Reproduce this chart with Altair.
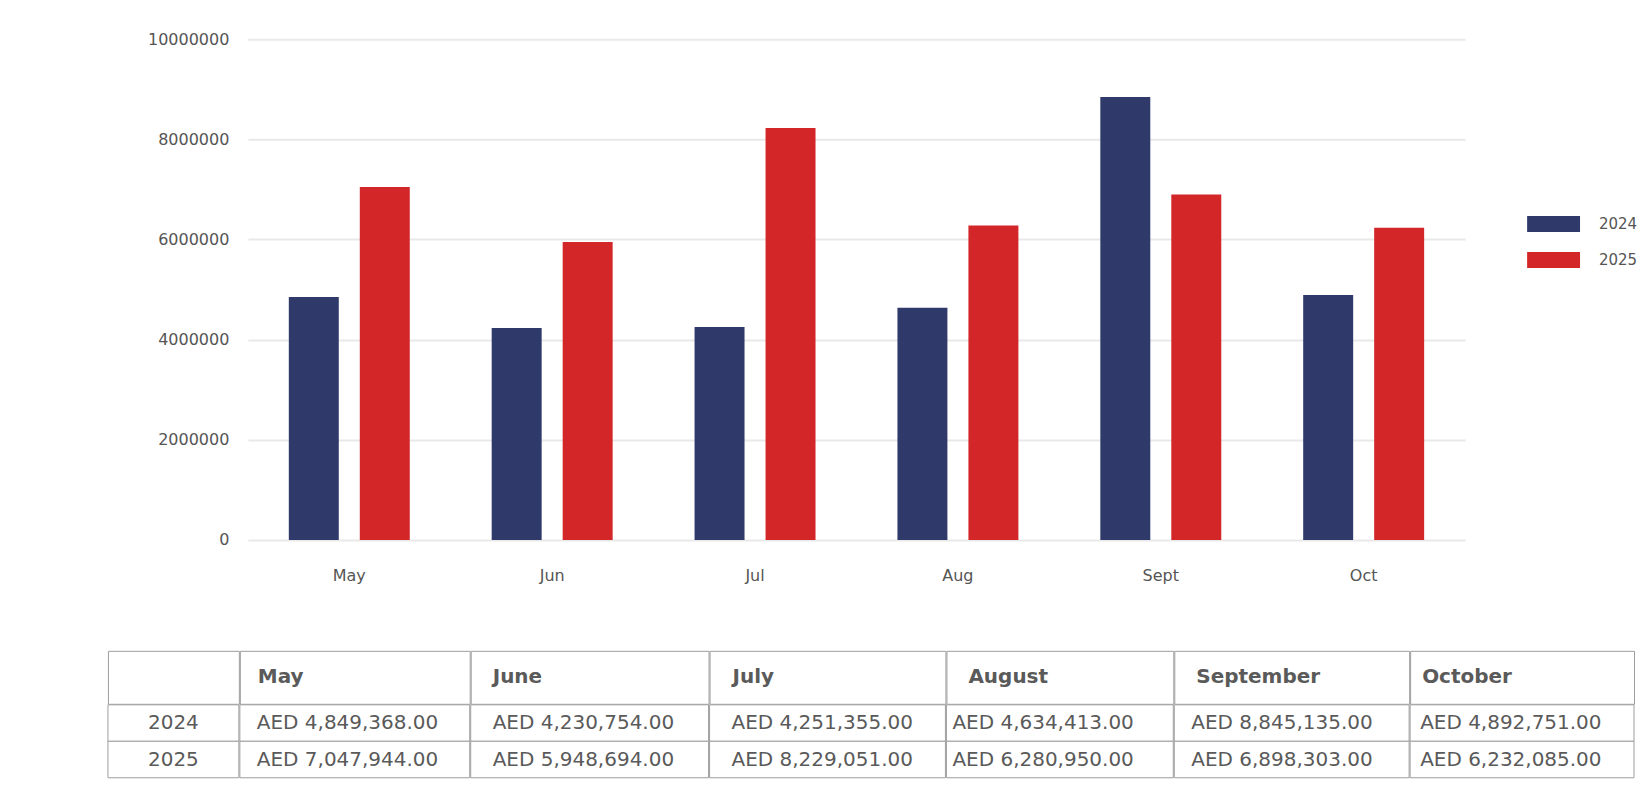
import altair as alt
import pandas as pd

# ---------------- data ----------------
months_short = ["May", "Jun", "Jul", "Aug", "Sept", "Oct"]
months_full = ["May", "June", "July", "August", "September", "October"]
years = ["2024", "2025"]
sales_2024 = [4849368.00, 4230754.00, 4251355.00, 4634413.00, 8845135.00, 4892751.00]
sales_2025 = [7047944.00, 5948694.00, 8229051.00, 6280950.00, 6898303.00, 6232085.00]
y_ticks = [0, 2000000, 4000000, 6000000, 8000000, 10000000]

# ---------------- styles / layout ----------------
COLORS = ["#2F3A6B", "#D32628"]
FONT = "DejaVu Sans"
AXIS_TXT = "#555555"
TXT = "#5a5a5a"
LINE = "#9e9e9e"
col_widths = [131, 230, 238, 236, 227, 235, 224]
head_pad = [0, 18, 22, 23, 22, 22, 12]
body_pad = [0, 17, 22, 22, 6, 17, 10]
HEAD_H = 53
BODY_H = 73
CELL_GAP = -3   # makes neighbouring cell borders coincide


def fmt_aed(v):
    return "AED {:,.2f}".format(v)


rows = []
for i, m in enumerate(months_short):
    rows.append({"month": m, "year": years[0], "value": sales_2024[i]})
    rows.append({"month": m, "year": years[1], "value": sales_2025[i]})
df = pd.DataFrame(rows)

bars = alt.Chart(df).mark_bar().encode(
    x=alt.X("month:N", sort=months_short,
            scale=alt.Scale(paddingInner=0, paddingOuter=0),
            axis=alt.Axis(title=None, labelAngle=0, domain=False, ticks=False, grid=False,
                          labelPadding=28, labelFontSize=16, labelColor=AXIS_TXT)),
    xOffset=alt.XOffset("year:N", sort=years,
                        scale=alt.Scale(paddingInner=0.296, paddingOuter=0.577)),
    y=alt.Y("value:Q", scale=alt.Scale(domain=[0, 10000000]),
            axis=alt.Axis(title=None, values=y_ticks, format="d", domain=False, ticks=False,
                          labelPadding=19, minExtent=139, gridColor="#e9e9e9", gridWidth=2,
                          labelFontSize=16, labelColor=AXIS_TXT)),
    color=alt.Color("year:N", sort=years,
                    scale=alt.Scale(domain=years, range=COLORS),
                    legend=alt.Legend(title=None, orient="none", legendX=1420, legendY=177,
                                      symbolType="M-1,-0.302H1V0.302H-1Z", symbolSize=2809,
                                      symbolStrokeWidth=0, symbolOpacity=1,
                                      labelFontSize=15, labelOffset=19, rowPadding=20,
                                      clipHeight=16, padding=0, labelColor=AXIS_TXT)),
).properties(width=1218, height=501)

# empty spacer so that the table can start left of the bar plot
spacer = alt.Chart(pd.DataFrame({"t": [""]})).mark_text().encode(
    text="t:N").properties(width=1, height=1)

top = alt.hconcat(spacer, bars, spacing=0)

# ---------------- table ----------------
header_labels = [""] + months_full
head_charts = []
for j, lab in enumerate(header_labels):
    c = alt.Chart(pd.DataFrame({"label": [lab]})).mark_text(
        align="left" if j > 0 else "center", baseline="middle", fontSize=20,
        fontWeight="bold", color=TXT
    )
    if j > 0:
        c = c.encode(x=alt.value(head_pad[j]), text="label:N")
    else:
        c = c.encode(text="label:N")
    c = c.properties(width=col_widths[j], height=HEAD_H,
                     view=alt.ViewBackground(stroke=LINE, strokeWidth=1))
    head_charts.append(c)

body_charts = []
for j in range(len(col_widths)):
    if j == 0:
        d = pd.DataFrame({"year": years, "label": years})
    else:
        d = pd.DataFrame({"year": years,
                          "label": [fmt_aed(sales_2024[j - 1]), fmt_aed(sales_2025[j - 1])]})
    ysc = alt.Y("year:N", sort=years, axis=None, scale=alt.Scale(paddingInner=0, paddingOuter=0))
    rect = alt.Chart(d).mark_rect(fill="white", stroke=LINE, strokeWidth=1).encode(y=ysc)
    if j == 0:
        txt = alt.Chart(d).mark_text(align="center", baseline="middle", fontSize=20,
                                     color=TXT).encode(y=ysc, text="label:N")
    else:
        txt = alt.Chart(d).mark_text(align="left", baseline="middle", fontSize=20,
                                     color=TXT).encode(y=ysc, x=alt.value(body_pad[j]),
                                                       text="label:N")
    body_charts.append(alt.layer(rect, txt).properties(width=col_widths[j], height=BODY_H))

table = alt.vconcat(alt.hconcat(*head_charts, spacing=CELL_GAP),
                    alt.hconcat(*body_charts, spacing=CELL_GAP), spacing=CELL_GAP)

chart = alt.vconcat(top, table, spacing=66).properties(
    padding={"left": 99, "top": 23, "right": 0, "bottom": 0}
).resolve_scale(color="independent").resolve_legend(color="independent").configure(
    font=FONT
).configure_view(stroke=None)

chart.save("out.html", embed_options={"renderer": "svg", "actions": False})
